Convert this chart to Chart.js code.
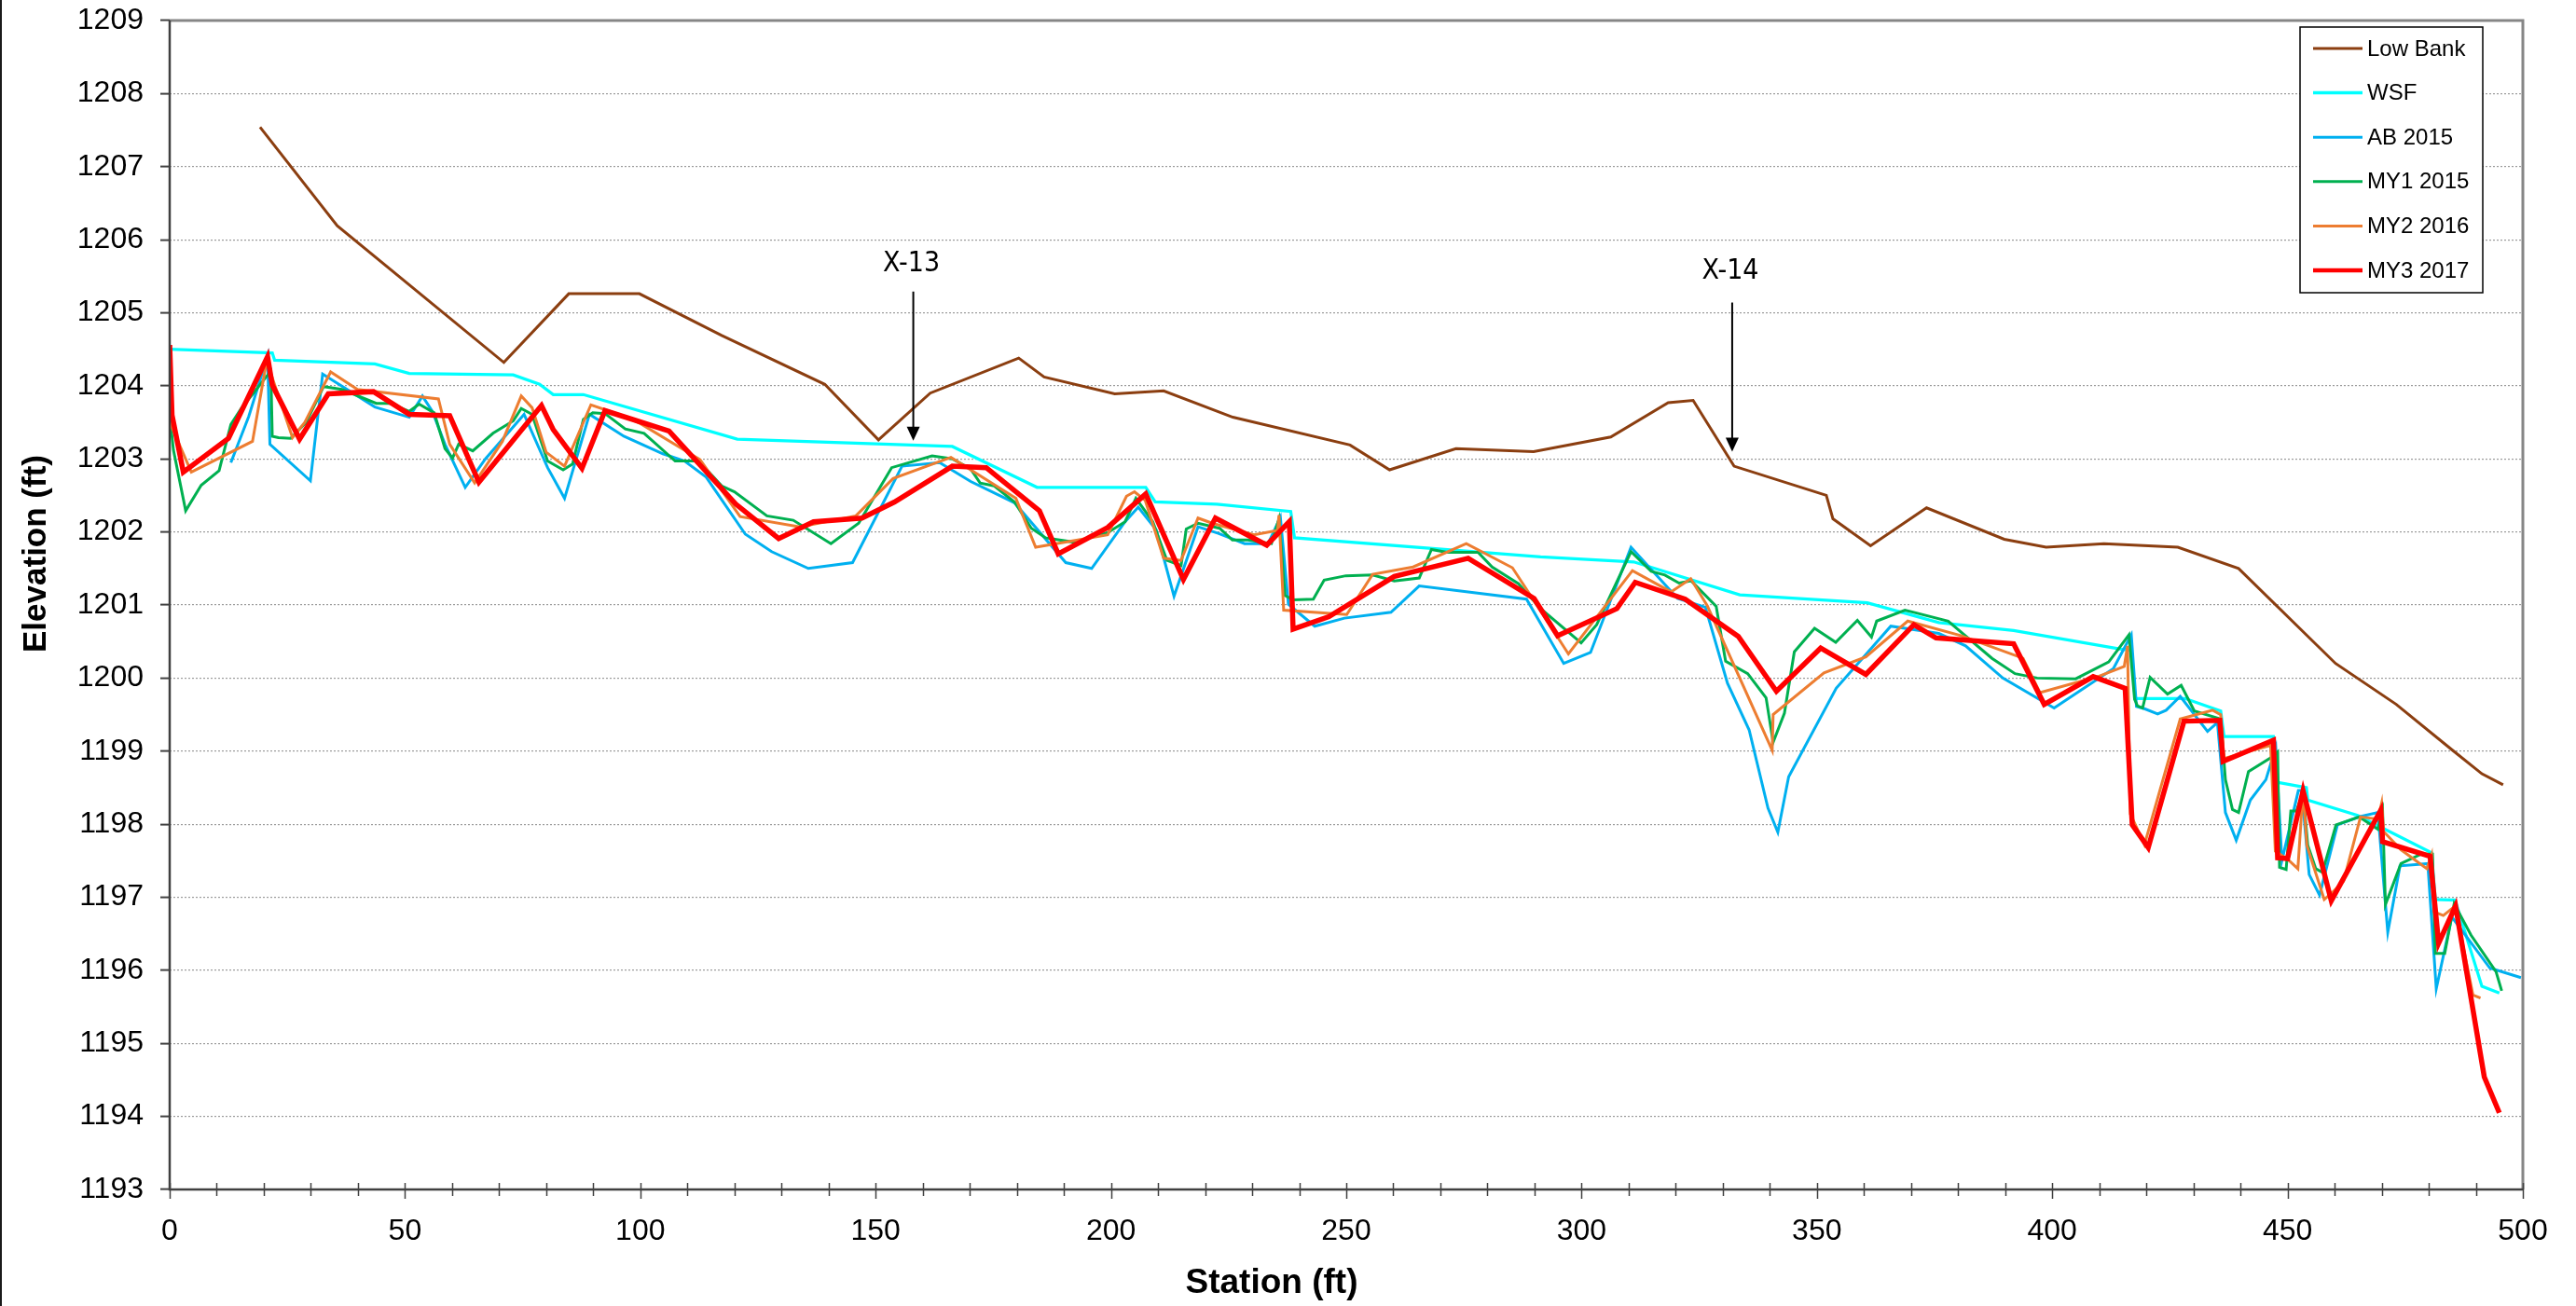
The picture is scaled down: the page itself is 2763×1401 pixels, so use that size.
<!DOCTYPE html>
<html>
<head>
<meta charset="utf-8">
<title>Longitudinal Profile</title>
<script src="https://cdn.jsdelivr.net/npm/chart.js@4.4.0/dist/chart.umd.min.js"></script>
<style>
    html, body { margin: 0; padding: 0; background: #ffffff; }
    #wrap { position: relative; width: 2763px; height: 1401px; }
</style>
</head>
<body>
<div id="wrap"><canvas id="profileChart" width="2763" height="1401"></canvas></div>
<script>
// Station (ft) / elevation (ft) pairs
const lowBankSta = [19.2, 35.6, 71.0, 84.8, 99.8, 117.3, 139.2, 150.6, 161.6, 180.4, 185.8, 200.8, 211.2, 225.9, 250.8, 259.2, 273.3, 289.8, 306.2, 318.4, 323.7, 332.4, 352.0, 353.4, 361.4, 373.3, 389.8, 398.7, 411.0, 426.7, 439.6, 460.2, 473.1, 485.1, 491.3, 495.8];
const lowBankElev = [1207.54, 1206.19, 1204.32, 1205.26, 1205.26, 1204.69, 1204.02, 1203.26, 1203.90, 1204.38, 1204.12, 1203.89, 1203.93, 1203.57, 1203.19, 1202.85, 1203.14, 1203.10, 1203.30, 1203.77, 1203.80, 1202.90, 1202.50, 1202.18, 1201.81, 1202.33, 1201.90, 1201.79, 1201.84, 1201.79, 1201.50, 1200.20, 1199.64, 1199.01, 1198.69, 1198.54];

const wsfSta = [0, 21.8, 22.3, 43.6, 50.9, 73.0, 78.6, 81.5, 87.9, 120.6, 166.3, 184.3, 207.4, 209.4, 222.5, 238.2, 239.0, 291.3, 311.1, 333.6, 360.7, 375.9, 391.8, 414.3, 416.8, 417.6, 428.2, 435.8, 436.5, 447.0, 448.0, 454.0, 454.3, 464.9, 480.6, 481.4, 485.6, 491.3, 495.0];
const wsfElev = [1204.50, 1204.45, 1204.35, 1204.30, 1204.17, 1204.15, 1204.02, 1203.88, 1203.88, 1203.27, 1203.17, 1202.61, 1202.61, 1202.41, 1202.38, 1202.28, 1201.92, 1201.66, 1201.59, 1201.14, 1201.03, 1200.76, 1200.65, 1200.40, 1200.38, 1199.72, 1199.72, 1199.55, 1199.20, 1199.20, 1198.57, 1198.50, 1198.33, 1198.12, 1197.61, 1196.97, 1196.96, 1195.78, 1195.69];

const ab2015Sta = [13.0, 16.8, 20.8, 21.3, 29.9, 32.5, 34.0, 43.6, 50.9, 53.7, 55.8, 58.5, 62.8, 67.1, 75.3, 80.3, 83.9, 89.2, 96.5, 104.8, 109.4, 114.0, 122.3, 127.9, 135.7, 145.1, 155.6, 163.6, 170.2, 179.5, 190.4, 195.9, 203.0, 205.8, 209.6, 213.4, 218.5, 222.8, 228.4, 233.4, 236.0, 237.7, 243.3, 249.6, 259.5, 265.5, 288.3, 296.2, 301.9, 310.5, 320.4, 326.3, 331.0, 335.6, 339.6, 341.7, 344.0, 354.1, 365.7, 375.9, 381.6, 389.5, 400.4, 413.0, 416.8, 417.9, 419.6, 422.4, 424.2, 427.2, 433.0, 435.1, 436.8, 439.1, 442.1, 445.4, 447.5, 448.8, 452.3, 453.0, 454.6, 456.8, 460.6, 465.2, 469.2, 471.3, 473.9, 479.8, 481.6, 484.9, 493.0, 499.6];
const ab2015Elev = [1202.95, 1203.58, 1204.41, 1203.20, 1202.70, 1204.16, 1204.10, 1203.71, 1203.57, 1203.86, 1203.65, 1203.20, 1202.61, 1203.00, 1203.61, 1202.88, 1202.46, 1203.61, 1203.31, 1203.07, 1202.97, 1202.75, 1201.97, 1201.73, 1201.50, 1201.58, 1202.90, 1202.95, 1202.69, 1202.40, 1201.58, 1201.50, 1202.14, 1202.34, 1202.03, 1201.12, 1202.07, 1201.98, 1201.84, 1201.84, 1202.20, 1201.01, 1200.71, 1200.82, 1200.90, 1201.26, 1201.08, 1200.20, 1200.35, 1201.79, 1201.09, 1200.97, 1199.93, 1199.29, 1198.22, 1197.89, 1198.65, 1199.86, 1200.71, 1200.61, 1200.44, 1200.00, 1199.59, 1200.13, 1200.59, 1199.61, 1199.58, 1199.51, 1199.56, 1199.75, 1199.27, 1199.39, 1198.16, 1197.78, 1198.33, 1198.61, 1199.05, 1197.50, 1198.46, 1198.46, 1197.31, 1197.03, 1197.99, 1198.10, 1198.16, 1196.52, 1197.43, 1197.46, 1195.75, 1196.73, 1196.03, 1195.90];

const my1Sta = [0, 0.8, 3.4, 6.7, 10.5, 13.0, 15.3, 17.8, 20.6, 21.5, 21.8, 23.1, 25.7, 29.0, 32.7, 36.6, 43.9, 46.9, 50.9, 53.0, 56.2, 58.5, 60.1, 61.4, 64.4, 68.7, 73.0, 74.7, 77.0, 80.3, 83.6, 85.6, 87.9, 89.9, 92.5, 96.8, 100.8, 107.4, 112.4, 117.3, 120.0, 126.9, 132.5, 140.5, 146.4, 153.4, 162.0, 166.3, 170.2, 172.2, 175.2, 179.5, 183.1, 186.1, 192.1, 199.3, 203.0, 205.3, 208.9, 211.9, 214.9, 216.0, 218.5, 223.1, 225.8, 229.1, 234.1, 235.7, 237.0, 238.7, 243.0, 245.3, 249.9, 255.6, 260.2, 265.5, 268.1, 271.4, 278.0, 281.0, 286.6, 291.3, 299.9, 303.2, 310.5, 314.8, 317.7, 320.7, 323.3, 328.6, 330.6, 335.3, 339.2, 340.7, 343.1, 345.2, 349.5, 354.0, 358.6, 361.6, 362.7, 368.7, 370.6, 377.9, 387.2, 392.1, 396.8, 405.0, 412.0, 416.3, 417.5, 418.1, 419.2, 420.8, 424.5, 427.4, 430.2, 435.8, 436.8, 438.3, 439.6, 441.7, 446.7, 447.9, 448.3, 449.7, 450.7, 451.9, 453.3, 454.3, 456.0, 457.4, 460.3, 465.2, 469.2, 470.2, 470.8, 474.1, 478.4, 480.8, 481.4, 483.4, 485.4, 489.0, 494.3, 495.5];
const my1Elev = [1203.60, 1203.12, 1202.29, 1202.64, 1202.84, 1203.47, 1203.70, 1203.90, 1204.13, 1204.20, 1203.31, 1203.29, 1203.28, 1203.50, 1203.99, 1203.95, 1203.76, 1203.76, 1203.65, 1203.75, 1203.63, 1203.14, 1203.01, 1203.20, 1203.11, 1203.35, 1203.52, 1203.69, 1203.61, 1202.97, 1202.85, 1202.93, 1203.54, 1203.63, 1203.62, 1203.41, 1203.35, 1202.97, 1202.97, 1202.63, 1202.55, 1202.22, 1202.16, 1201.84, 1202.12, 1202.88, 1203.04, 1203.00, 1202.86, 1202.67, 1202.63, 1202.41, 1202.05, 1201.92, 1201.86, 1201.99, 1202.14, 1202.46, 1202.14, 1201.61, 1201.54, 1202.04, 1202.12, 1202.05, 1201.89, 1201.89, 1201.84, 1202.18, 1201.13, 1201.07, 1201.08, 1201.34, 1201.40, 1201.41, 1201.33, 1201.37, 1201.76, 1201.72, 1201.72, 1201.52, 1201.29, 1200.95, 1200.48, 1200.73, 1201.73, 1201.46, 1201.41, 1201.30, 1201.33, 1200.98, 1200.23, 1200.06, 1199.73, 1199.12, 1199.52, 1200.36, 1200.68, 1200.49, 1200.79, 1200.56, 1200.78, 1200.93, 1200.90, 1200.78, 1200.27, 1200.06, 1200.00, 1199.99, 1200.22, 1200.59, 1199.71, 1199.62, 1199.59, 1200.01, 1199.78, 1199.90, 1199.55, 1199.44, 1198.61, 1198.20, 1198.16, 1198.72, 1198.92, 1198.99, 1197.41, 1197.38, 1198.18, 1198.18, 1198.44, 1197.71, 1197.39, 1197.34, 1197.99, 1198.10, 1197.93, 1198.18, 1196.90, 1197.46, 1197.59, 1197.59, 1196.23, 1196.23, 1196.91, 1196.48, 1195.98, 1195.72];

const my2Sta = [0, 4.6, 17.6, 20.6, 26.1, 28.7, 34.2, 39.9, 57.1, 59.5, 64.8, 70.7, 74.7, 77.0, 80.0, 83.9, 89.5, 96.8, 100.1, 112.7, 121.2, 133.9, 145.8, 153.7, 166.0, 179.8, 184.0, 192.1, 199.3, 203.3, 205.0, 207.3, 211.2, 214.9, 218.5, 221.5, 230.4, 235.4, 235.7, 236.7, 250.1, 255.6, 264.2, 275.5, 285.3, 291.3, 297.2, 310.8, 319.0, 323.2, 326.7, 340.5, 340.7, 351.5, 360.4, 369.3, 380.6, 393.8, 397.4, 409.7, 415.3, 416.0, 416.6, 419.6, 427.2, 434.1, 435.8, 436.5, 446.4, 447.4, 450.0, 452.2, 453.3, 454.1, 457.8, 459.6, 461.9, 465.5, 469.2, 470.0, 470.4, 474.1, 479.6, 480.6, 481.1, 483.1, 485.6, 489.4, 491.0];
const my2Elev = [1203.50, 1202.82, 1203.24, 1204.34, 1203.29, 1203.50, 1204.19, 1203.95, 1203.82, 1203.20, 1202.67, 1203.24, 1203.86, 1203.70, 1203.09, 1202.90, 1203.74, 1203.58, 1203.48, 1202.99, 1202.21, 1202.07, 1202.22, 1202.73, 1203.02, 1202.46, 1201.79, 1201.88, 1201.96, 1202.49, 1202.55, 1202.43, 1201.64, 1201.61, 1202.19, 1202.12, 1201.96, 1202.02, 1202.23, 1200.93, 1200.87, 1201.42, 1201.52, 1201.84, 1201.51, 1200.92, 1200.33, 1201.47, 1201.18, 1201.36, 1200.99, 1199.01, 1199.50, 1200.07, 1200.29, 1200.78, 1200.58, 1200.27, 1199.80, 1200.02, 1200.16, 1200.44, 1198.14, 1197.72, 1199.44, 1199.56, 1199.50, 1198.90, 1199.08, 1197.63, 1197.52, 1197.39, 1198.48, 1197.71, 1196.97, 1197.07, 1197.22, 1198.10, 1198.07, 1198.29, 1197.90, 1197.65, 1197.39, 1197.58, 1196.80, 1196.75, 1196.88, 1195.66, 1195.62];

const my3Sta = [0, 0.5, 2.9, 12.5, 20.8, 21.8, 27.6, 33.7, 43.3, 50.9, 59.5, 65.7, 79.0, 81.5, 87.6, 92.5, 106.1, 120.3, 129.4, 136.8, 147.1, 154.0, 166.3, 173.5, 184.8, 188.8, 199.3, 207.4, 215.4, 222.2, 233.1, 237.9, 238.7, 246.3, 260.2, 275.9, 289.9, 294.9, 307.5, 311.4, 322.0, 333.3, 341.4, 350.8, 360.4, 370.6, 375.3, 391.8, 398.3, 408.7, 415.5, 417.0, 420.4, 428.0, 435.6, 436.3, 447.0, 447.9, 450.0, 453.3, 459.3, 469.8, 470.2, 480.3, 482.1, 485.7, 491.8, 495.0];
const my3Elev = [1204.56, 1203.60, 1202.82, 1203.28, 1204.40, 1204.01, 1203.27, 1203.89, 1203.92, 1203.61, 1203.59, 1202.68, 1203.73, 1203.40, 1202.87, 1203.66, 1203.38, 1202.38, 1201.91, 1202.14, 1202.19, 1202.41, 1202.90, 1202.88, 1202.29, 1201.70, 1202.06, 1202.52, 1201.35, 1202.19, 1201.82, 1202.14, 1200.67, 1200.84, 1201.39, 1201.64, 1201.09, 1200.58, 1200.95, 1201.31, 1201.08, 1200.57, 1199.82, 1200.41, 1200.05, 1200.73, 1200.55, 1200.47, 1199.64, 1200.02, 1199.86, 1197.99, 1197.68, 1199.41, 1199.42, 1198.86, 1199.15, 1197.54, 1197.53, 1198.46, 1196.95, 1198.19, 1197.76, 1197.56, 1196.37, 1196.88, 1194.54, 1194.05];

const seriesNames = ["Low Bank", "WSF", "AB 2015", "MY1 2015", "MY2 2016", "MY3 2017"];
const seriesSta = [lowBankSta, wsfSta, ab2015Sta, my1Sta, my2Sta, my3Sta];
const seriesElev = [lowBankElev, wsfElev, ab2015Elev, my1Elev, my2Elev, my3Elev];

// Axis range
const stationMin = 0, stationMax = 500, stationStep = 50, stationMinorStep = 10;
const elevMin = 1193, elevMax = 1209, elevStep = 1;

// Cross-section markers (station, label / arrow start / arrow tip elevations)
const markerLabels = ["X-13", "X-14"];
const markerSta = [158.0, 332.0];
const markerTextElev = [1205.67, 1205.56];
const markerArrowTop = [1205.29, 1205.14];
const markerArrowTip = [1203.25, 1203.10];

// Styles
const seriesColors = ["#8B3E10", "#00FFFF", "#00B0F0", "#00B050", "#ED7D31", "#FF0000"];
const seriesWidths = [3, 3.25, 3, 3, 3, 5.5];
const legendWidths = [3, 3.5, 3, 3, 3, 4.5];
const FONT = "'Liberation Sans', Arial, sans-serif";

Chart.defaults.font.family = FONT;
Chart.defaults.color = "#000000";

const datasets = seriesNames.map((name, i) => ({
    label: name,
    data: seriesSta[i].map((x, k) => ({ x: x, y: seriesElev[i][k] })),
    borderColor: seriesColors[i],
    backgroundColor: seriesColors[i],
    borderWidth: seriesWidths[i],
    pointRadius: 0,
    tension: 0,
    fill: false,
    order: seriesNames.length - i // later series drawn on top
}));

// frame, x ticks, axis titles, markers, legend
const decorPlugin = {
    id: "decor",
    beforeDraw(chart)
    {
        const ctx = chart.ctx;
        ctx.save();
        ctx.fillStyle = "#ffffff";
        ctx.fillRect(0, 0, chart.width, chart.height);
        ctx.fillStyle = "#1a1a1a";
        ctx.fillRect(0, 0, 2, chart.height);
        ctx.restore();
    },
    afterDraw(chart)
    {
        const ctx = chart.ctx;
        const area = chart.chartArea;
        const xs = chart.scales.x;
        const ys = chart.scales.y;

        ctx.save();

        // plot frame: grey top and right
        ctx.strokeStyle = "#868686";
        ctx.lineWidth = 3;
        ctx.beginPath();
        ctx.moveTo(area.left, area.top);
        ctx.lineTo(area.right, area.top);
        ctx.lineTo(area.right, area.bottom);
        ctx.stroke();

        // axis lines
        ctx.strokeStyle = "#404040";
        ctx.lineWidth = 2.5;
        ctx.beginPath();
        ctx.moveTo(area.left, area.top);
        ctx.lineTo(area.left, area.bottom);
        ctx.lineTo(area.right, area.bottom);
        ctx.stroke();

        // x tick marks crossing the axis
        ctx.lineWidth = 1.5;
        for (let v = stationMin; v <= stationMax; v += stationMinorStep)
        {
            const px = Math.round(xs.getPixelForValue(v)) + 0.5;
            const major = v % stationStep === 0;
            ctx.beginPath();
            ctx.moveTo(px, area.bottom - 7);
            ctx.lineTo(px, area.bottom + (major ? 10 : 7));
            ctx.stroke();
        }

        // axis titles
        ctx.fillStyle = "#000000";
        ctx.font = "bold 37px " + FONT;
        ctx.textAlign = "center";
        ctx.textBaseline = "middle";
        ctx.fillText("Station (ft)", 1364, 1377);

        ctx.save();
        ctx.translate(39, 594);
        ctx.rotate(-Math.PI / 2);
        ctx.font = "bold 35px " + FONT;
        ctx.fillText("Elevation (ft)", 0, 0);
        ctx.restore();

        // cross-section markers
        ctx.font = "30px 'Liberation Sans Narrow', 'DejaVu Sans Condensed', " + FONT;
        ctx.strokeStyle = "#000000";
        ctx.fillStyle = "#000000";
        ctx.lineWidth = 2;
        markerLabels.forEach((label, i) =>
        {
            const px = xs.getPixelForValue(markerSta[i]);
            const tip = ys.getPixelForValue(markerArrowTip[i]);
            ctx.fillText(label, px - 2, ys.getPixelForValue(markerTextElev[i]));
            ctx.beginPath();
            ctx.moveTo(px, ys.getPixelForValue(markerArrowTop[i]));
            ctx.lineTo(px, tip - 12);
            ctx.stroke();
            ctx.beginPath();
            ctx.moveTo(px - 7, tip - 15);
            ctx.lineTo(px + 7, tip - 15);
            ctx.lineTo(px, tip);
            ctx.closePath();
            ctx.fill();
        });

        // legend
        const box = { x: 2467, y: 29, w: 196, h: 285 };
        ctx.fillStyle = "#ffffff";
        ctx.fillRect(box.x, box.y, box.w, box.h);
        ctx.strokeStyle = "#000000";
        ctx.lineWidth = 1.5;
        ctx.strokeRect(box.x, box.y, box.w, box.h);
        ctx.font = "24px " + FONT;
        ctx.textAlign = "left";
        ctx.textBaseline = "middle";
        chart.data.datasets.forEach((ds, i) =>
        {
            const cy = 52 + i * 47.6;
            ctx.strokeStyle = ds.borderColor;
            ctx.lineWidth = legendWidths[i];
            ctx.beginPath();
            ctx.moveTo(2481, cy);
            ctx.lineTo(2534, cy);
            ctx.stroke();
            ctx.fillStyle = "#000000";
            ctx.fillText(ds.label, 2539, cy + 1);
        });

        ctx.restore();
    }
};

const ctx = document.getElementById("profileChart").getContext("2d");

const chart = new Chart(ctx, {
    type: "line",
    data: { datasets },
    options: {
        responsive: false,
        animation: false,
        devicePixelRatio: 1,
        layout: { autoPadding: false, padding: { top: 22, right: 57, bottom: 0, left: 0 } },
        plugins: {
            legend: { display: false },
            tooltip: { enabled: false }
        },
        scales: {
            x: {
                type: "linear",
                min: stationMin,
                max: stationMax,
                afterFit: scale => { scale.height = 125; },
                ticks: {
                    stepSize: stationStep,
                    padding: 18,
                    font: { size: 32 },
                    color: "#000000",
                    maxRotation: 0,
                    callback: value => String(value)
                },
                grid: { display: false },
                border: { display: false }
            },
            y: {
                min: elevMin,
                max: elevMax,
                afterFit: scale =>
                {
                    scale.width = 182;
                    scale.paddingTop = 0;   // let the top label overhang like the original
                    scale.paddingBottom = 0;
                },
                ticks: {
                    stepSize: elevStep,
                    padding: 18,
                    font: { size: 32 },
                    color: "#000000",
                    callback: value => String(value)
                },
                grid: {
                    color: "#9a9a9a",
                    lineWidth: 1.2,
                    tickLength: 10,
                    tickColor: "#404040",
                    tickWidth: 2
                },
                border: { display: false, dash: [2, 2] }
            }
        }
    },
    plugins: [decorPlugin]
});
</script>
</body>
</html>
